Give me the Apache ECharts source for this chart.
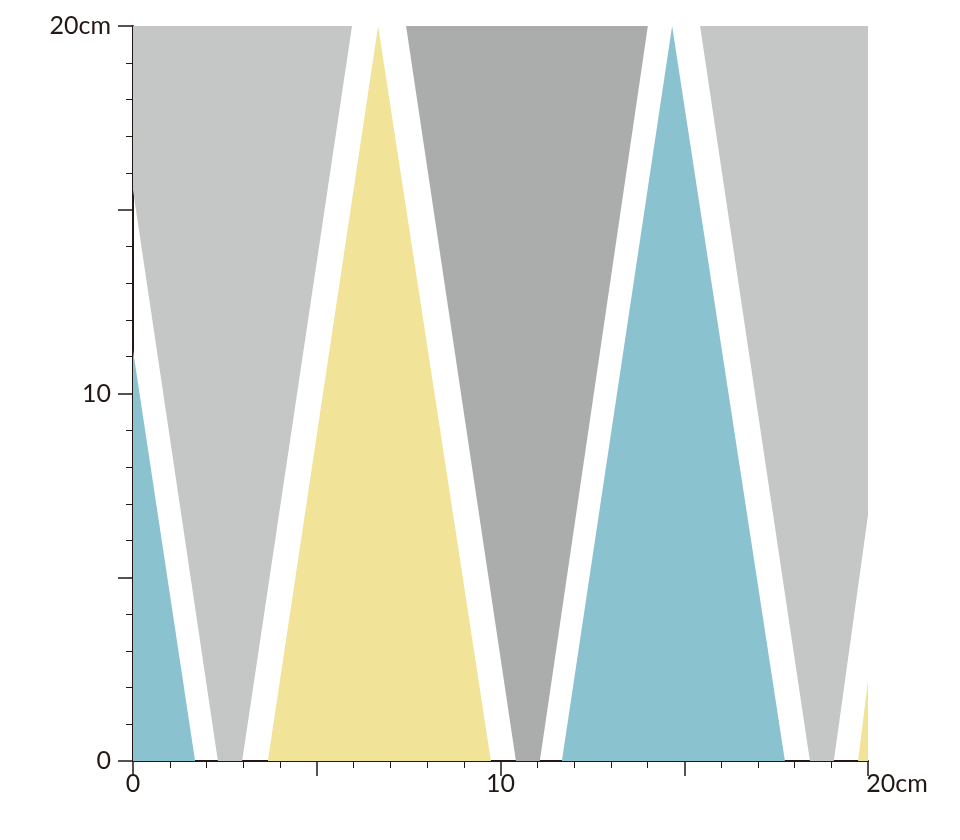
<!DOCTYPE html>
<html style="height: 100%">
<head>
    <meta charset="utf-8">
</head>
<body style="height: 100%; margin: 0; background: #fff">
<div id="container" style="width: 960px; height: 840px"></div>
<script type="text/javascript" src="https://cdn.jsdelivr.net/npm/echarts@6/dist/echarts.min.js"></script>
<script type="text/javascript">
    // shape outlines in cm, [x, y]
    var grayLeft = [[0, 20], [5.96, 20], [2.97, 0], [2.31, 0], [0, 15.54]];
    var blueLeft = [[0, 11.18], [1.69, 0], [0, 0]];
    var yellowMid = [[6.67, 20], [9.74, 0], [3.67, 0]];
    var grayDark = [[7.43, 20], [14.01, 20], [11.07, 0], [10.42, 0]];
    var blueRight = [[14.67, 20], [17.74, 0], [11.67, 0]];
    var grayRight = [[15.43, 20], [20, 20], [20, 6.69], [19.07, 0], [18.42, 0]];
    var yellowEdge = [[19.73, 0], [20, 2.2], [20, 0]];

    var shapes = [grayLeft, blueLeft, yellowMid, grayDark, blueRight, grayRight, yellowEdge];
    var colors = ['#c5c7c6', '#8ac2cf', '#f1e397', '#abadac', '#8ac2cf', '#c5c7c6', '#f1e397'];

    var xLabels = {0: '0', 10: '10', 20: '{r|20cm}'};
    var yLabels = {0: '0', 10: '10', 20: '20cm'};

    var myChart = echarts.init(document.getElementById('container'));

    var font = 'Lato, "Noto Sans", sans-serif';
    var axisCommon = {
        type: 'value',
        min: 0,
        max: 20,
        interval: 5,
        splitLine: {show: false},
        axisLine: {onZero: false, lineStyle: {color: '#231815', width: 2}},
        axisTick: {show: true, inside: false, length: 15, lineStyle: {color: '#231815', width: 1.5}},
        minorTick: {show: true, splitNumber: 5, length: 7, lineStyle: {color: '#231815', width: 1}},
        minorSplitLine: {show: false}
    };

    var option = {
        animation: false,
        grid: {left: 133, right: 92, top: 26, bottom: 79},
        xAxis: Object.assign({}, axisCommon, {
            axisLabel: {
                color: '#231815', fontSize: 25, fontFamily: font, margin: 10,
                formatter: function (v) { return xLabels[v] || ''; },
                rich: {r: {fontSize: 25, fontFamily: font, color: '#231815', padding: [0, 0, 0, 58]}}
            }
        }),
        yAxis: Object.assign({}, axisCommon, {
            axisLabel: {
                color: '#231815', fontSize: 25, fontFamily: font, margin: 22,
                formatter: function (v) { return yLabels[v] || ''; }
            }
        }),
        series: [{
            type: 'custom',
            data: shapes.map(function (s, i) { return [i]; }),
            renderItem: function (params, api) {
                var i = api.value(0);
                var pts = shapes[i].map(function (p) { return api.coord(p); });
                return {
                    type: 'polygon',
                    shape: {points: pts},
                    style: {fill: colors[i]}
                };
            },
            z: 1
        }]
    };

    myChart.setOption(option);
</script>
</body>
</html>
